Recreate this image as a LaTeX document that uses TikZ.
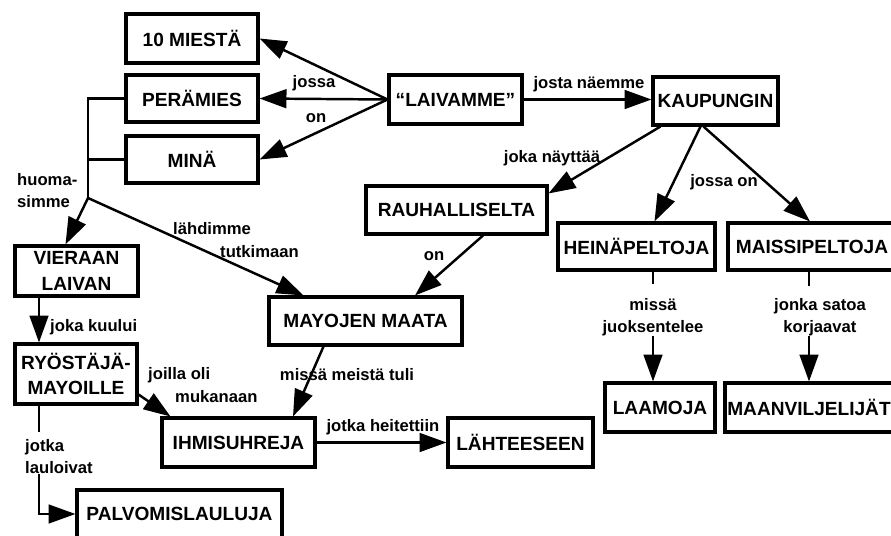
\documentclass[tikz,border=0pt]{standalone}
\usepackage{fontspec}
\setmainfont{Liberation Sans}
\usetikzlibrary{arrows.meta,calc}
\begin{document}
\begin{tikzpicture}[x=0.03cm,y=-0.03cm,
  box/.style={draw,line width=2.6pt,inner sep=0pt,align=center,
    font=\fontsize{16.3}{21.5}\selectfont\bfseries},
  sz/.style 2 args={minimum width=#1*0.03cm,minimum height=#2*0.03cm},
  lbl/.style={inner sep=0pt,align=center,font=\fontsize{14.2}{18.7}\selectfont\bfseries},
  link/.style={line width=2.1pt},
  arr/.style={link,-{Triangle[length=23pt,width=16pt]}}]
\useasboundingbox (0,0) rectangle (891,536);
\clip (0,0) rectangle (891,536);

% concept boxes
\node[box,sz={132}{49}] (m10)  at (192,38.5)  {10 MIESTÄ};
\node[box,sz={132}{47}] (per)  at (192,98.5)  {PERÄMIES};
\node[box,sz={132}{47}] (mina) at (192,159.5) {MINÄ};
\node[box,sz={133}{49}] (laiv) at (455.5,99.5) {“LAIVAMME”};
\node[box,sz={125}{48}] (kaup) at (715.5,101) {KAUPUNGIN};
\node[box,sz={181}{48}] (rauh) at (456.5,210) {RAUHALLISELTA};
\node[box,sz={157}{47}] (hein) at (636.5,246.5) {HEINÄPELTOJA};
\node[box,sz={168}{47}] (mais) at (812,246.5) {MAISSIPELTOJA};
\node[box,sz={110}{49}] (laam) at (660,407.5) {LAAMOJA};
\node[box,sz={168}{49}] (maan) at (809,407.5) {MAANVILJELIJÄT};
\node[box,sz={123}{50}] (vier) at (76.5,271) {VIERAAN\\LAIVAN};
\node[box,sz={193}{48}] (maya) at (365.5,321) {MAYOJEN MAATA};
\node[box,sz={122}{60}] (ryos) at (76,374) {RYÖSTÄJÄ-\\MAYOILLE};
\node[box,sz={153}{49}] (ihmi) at (238.5,442.5) {IHMISUHREJA};
\node[box,sz={145}{49}] (laht) at (520.5,442.5) {LÄHTEESEEN};
\node[box,sz={205}{48}] (palv) at (179.5,514) {PALVOMISLAULUJA};

% link labels
\node[lbl] (ljossa) at (314,83) {jossa};
\node[lbl] (lon1) at (316,118) {on};
\node[lbl] (ljosta) at (589,84) {josta näemme};
\node[lbl] (lnayt) at (552,158) {joka näyttää};
\node[lbl] (ljossaon) at (724,182) {jossa on};
\node[lbl] (lon2) at (434,256) {on};
\node[lbl] (ljuoks) at (653,317) {missä\\juoksentelee};
\node[lbl] (lsato) at (820,317) {jonka satoa\\korjaavat};
\node[lbl,align=left,anchor=west] (lhuom) at (17,191) {huoma-\\simme};
\node[lbl,anchor=west] (llahd) at (173,229) {lähdimme};
\node[lbl,anchor=west] (ltutk) at (220,252) {tutkimaan};
\node[lbl,anchor=west] (lkuul) at (50,327) {joka kuului};
\node[lbl,anchor=west] (ljoil) at (148,375) {joilla oli};
\node[lbl,anchor=west] (lmuk) at (175,397) {mukanaan};
\node[lbl] (lmissa) at (347,375) {missä meistä tuli};
\node[lbl] (lheit) at (383,427) {jotka heitettiin};
\node[lbl,align=left,anchor=west] (llaul) at (25,457) {jotka\\lauloivat};

% connectors
\draw[arr] (laiv.west) -- (m10.east);
\draw[arr] (laiv.west) -- (per.east);
\draw[arr] (laiv.west) -- (mina.east);
\draw[arr] (laiv.east) -- (laiv.east -| kaup.west);
\draw[arr] ($(kaup.south west)+(9,0)$) -- ($(rauh.north east)+(0,9)$);
\draw[arr] ($(kaup.south)+(-15,0)$) -- ($(hein.north)+(18,0)$);
\draw[arr] ($(kaup.south)+(-12,0)$) -- ($(mais.north)+(-2,0)$);
\draw[arr] ($(rauh.south)+(26.5,0)$) -- ($(maya.north)+(49.5,0)$);

\coordinate (J) at (88,198);
\draw[link] (per.west) -| (J);
\draw[link] (mina.west) -- (mina.west -| J);
\draw[arr] (J) -- ($(vier.north)+(-11,0)$);
\draw[arr] (J) -- ($(maya.north)+(-62,0)$);

\coordinate (vx) at ($(vier.south)+(-37.5,0)$);
\draw[arr] (vx) -- (vx |- ryos.north);
\draw[arr] ($(ryos.south east)+(0,-11)$) -- ($(ihmi.north west)+(10,0)$);
\draw[arr] ($(maya.south west)+(56,0)$) -- ($(ihmi.north)+(54.5,0)$);
\draw[arr] (ihmi.east) -- (laht.west);

\coordinate (rx) at (ryos.south -| vx);
\draw[link] (rx) -- ++(0,26);
\draw[arr] (llaul.south -| rx) |- (palv.west);

\coordinate (hx) at ($(laam.north)+(-7,0)$);
\draw[link] (hx |- hein.south) -- ++(0,12);
\draw[arr] (ljuoks.south -| hx) -- (hx);

\draw[link] (maan.north |- mais.south) -- ++(0,14);
\draw[arr] (lsato.south -| maan.north) -- (maan.north);
\end{tikzpicture}
\end{document}
